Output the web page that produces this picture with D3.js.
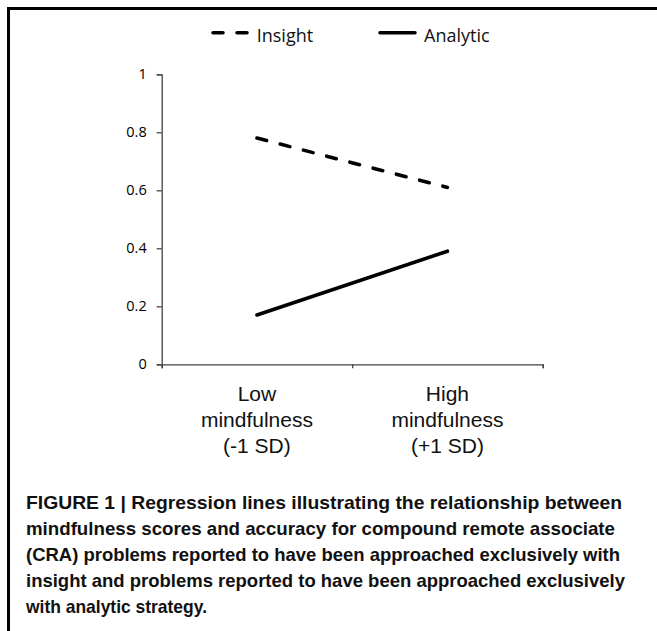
<!DOCTYPE html>
<html>
<head>
<meta charset="utf-8">
<script src="https://cdn.jsdelivr.net/npm/d3@7"></script>
<style>
  body { margin: 0; background: #fff; }
  .tick text { font-family: "Open Sans", sans-serif; font-size: 14.5px; fill: #000; }
  .axis path, .axis line { stroke: #444; stroke-width: 1.3px; }
  .cat { font-family: "Liberation Sans", Arial, sans-serif; font-size: 21px; fill: #111; }
  .legend text { font-family: "Open Sans", sans-serif; font-size: 18px; fill: #111; }
  .caption { font-family: "Liberation Sans", Arial, sans-serif; font-size: 18.5px; font-weight: bold; fill: #111; }
</style>
</head>
<body>
<div id="chart"></div>
<script>
// categories on x
const categories = [["Low", "mindfulness", "(-1 SD)"], ["High", "mindfulness", "(+1 SD)"]];
// accuracy values
const insight = [0.78, 0.61];
const analytic = [0.17, 0.39];
const yTicks = [0, 0.2, 0.4, 0.6, 0.8, 1];

const captionLines = [
    "FIGURE 1 | Regression lines illustrating the relationship between",
    "mindfulness scores and accuracy for compound remote associate",
    "(CRA) problems reported to have been approached exclusively with",
    "insight and problems reported to have been approached exclusively",
    "with analytic strategy."
];
// widths of the caption lines in the original (the font there is narrower)
const captionWidths = [596, 589, 594, 599, 181];

const width = 657, height = 631;
const margin = { left: 161.7, right: 114.3, top: 74.3, bottom: 266.7 };

const svg = d3.select("#chart").append("svg")
    .attr("width", width)
    .attr("height", height);

// frame (only top and left edges are visible)
svg.append("path")
    .attr("d", `M8.5,${height}V8.5H${width}`)
    .attr("fill", "none")
    .attr("stroke", "#000")
    .attr("stroke-width", 3);

const x = d3.scaleBand()
    .domain(d3.range(categories.length))
    .range([margin.left, width - margin.right]);

const xEdge = d3.scaleLinear()
    .domain([0, categories.length])
    .range([margin.left, width - margin.right]);

const y = d3.scaleLinear()
    .domain([0, 1])
    .range([height - margin.bottom, margin.top]);

// y axis
svg.append("g")
    .attr("class", "axis")
    .attr("transform", `translate(${margin.left},0)`)
    .call(d3.axisLeft(y).tickValues(yTicks).tickSize(5).tickPadding(10).tickFormat(d3.format("~g")));

// x axis, ticks sit between categories
svg.append("g")
    .attr("class", "axis")
    .attr("transform", `translate(0,${y(0)})`)
    .call(d3.axisBottom(xEdge).tickValues(d3.range(categories.length + 1)).tickSize(4).tickSizeOuter(4).tickFormat(""));

// category labels
categories.forEach((lines, i) => {
    const t = svg.append("text")
        .attr("class", "cat")
        .attr("text-anchor", "middle")
        .attr("x", x(i) + x.bandwidth() / 2)
        .attr("y", 400.7);
    lines.forEach((s, j) => {
        t.append("tspan")
            .attr("x", x(i) + x.bandwidth() / 2)
            .attr("dy", j === 0 ? 0 : 26)
            .text(s);
    });
});

const line = d3.line()
    .x((d, i) => x(i) + x.bandwidth() / 2)
    .y(d => y(d));

svg.append("path")
    .datum(insight)
    .attr("d", line)
    .attr("fill", "none")
    .attr("stroke", "#000")
    .attr("stroke-width", 3.6)
    .attr("stroke-linecap", "round")
    .attr("stroke-dasharray", "10,14");

svg.append("path")
    .datum(analytic)
    .attr("d", line)
    .attr("fill", "none")
    .attr("stroke", "#000")
    .attr("stroke-width", 3.6)
    .attr("stroke-linecap", "round");

// legend
const legend = svg.append("g").attr("class", "legend");
const legendItems = [
    { name: "Insight", dash: "10,14", x0: 213, x1: 248, tx: 256.7 },
    { name: "Analytic", dash: null, x0: 380, x1: 415, tx: 424 }
];
legendItems.forEach(d => {
    legend.append("line")
        .attr("x1", d.x0).attr("x2", d.x1)
        .attr("y1", 32.7).attr("y2", 32.7)
        .attr("stroke", "#000")
        .attr("stroke-width", 3.6)
        .attr("stroke-linecap", "round")
        .attr("stroke-dasharray", d.dash);
    legend.append("text")
        .attr("x", d.tx)
        .attr("y", 41.5)
        .text(d.name);
});

// caption
svg.append("g")
    .selectAll("text")
    .data(captionLines)
    .enter().append("text")
    .attr("class", "caption")
    .attr("x", 26)
    .attr("y", (d, i) => 509 + i * 26)
    .attr("textLength", (d, i) => captionWidths[i])
    .attr("lengthAdjust", "spacingAndGlyphs")
    .text(d => d);
</script>
</body>
</html>
